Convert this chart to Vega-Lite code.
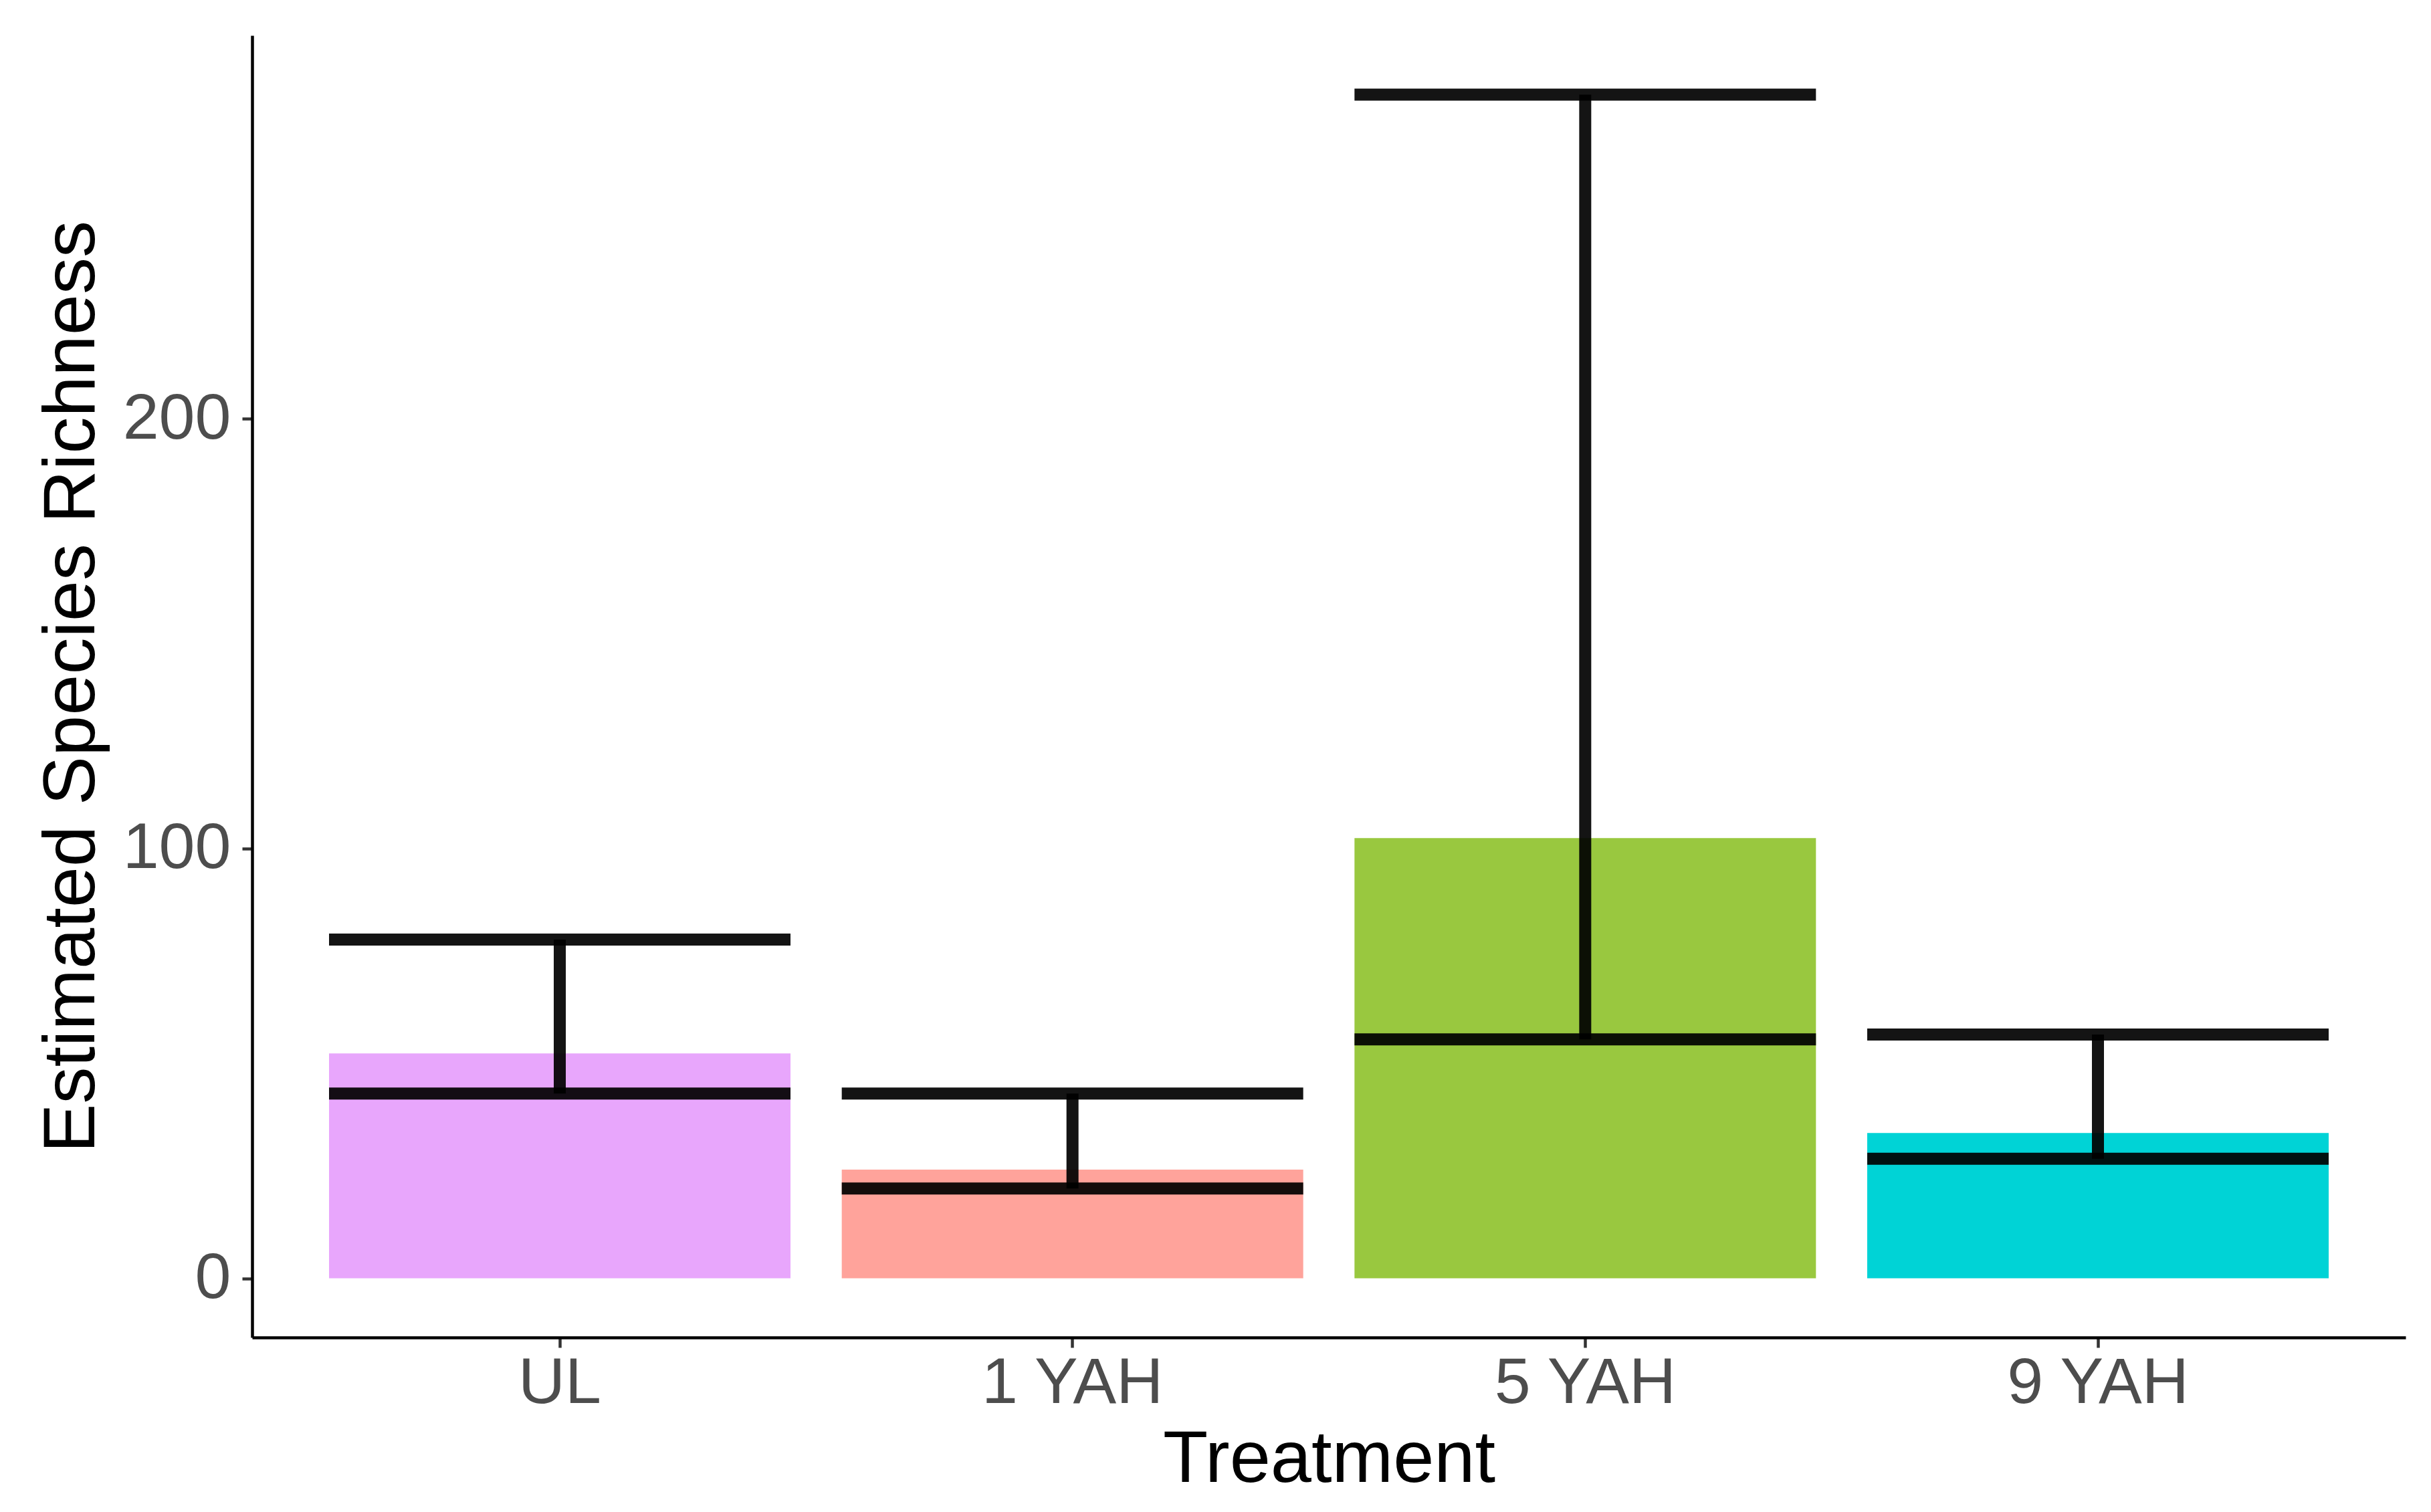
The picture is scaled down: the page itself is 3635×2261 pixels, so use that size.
{
  "$schema": "https://vega.github.io/schema/vega-lite/v6.json",
  "autosize": {"type": "none"},
  "padding": {"left": 377, "top": 53, "right": 38, "bottom": 261},
  "width": 3220,
  "height": 1947,
  "background": "white",
  "config": {
    "view": {"stroke": null},
    "font": "Liberation Sans",
    "axis": {
      "grid": false,
      "domainColor": "#000000",
      "domainWidth": 4.5,
      "tickColor": "#333333",
      "tickWidth": 4.5,
      "tickSize": 15,
      "labelColor": "#4D4D4D",
      "labelFontSize": 97,
      "labelLimit": 0,
      "labelFont": "Liberation Sans",
      "titleFont": "Liberation Sans",
      "titleFontSize": 110,
      "titleFontWeight": "normal",
      "titleColor": "#000000",
      "titleLimit": 0
    }
  },
  "data": {
    "values": [
      {"Treatment": "UL", "richness": 52.3, "lower": 43.0, "upper": 78.8},
      {"Treatment": "1 YAH", "richness": 25.3, "lower": 20.9, "upper": 43.0},
      {"Treatment": "5 YAH", "richness": 102.4, "lower": 55.6, "upper": 275.4},
      {"Treatment": "9 YAH", "richness": 33.8, "lower": 27.8, "upper": 56.7}
    ]
  },
  "encoding": {
    "x": {
      "field": "Treatment",
      "type": "nominal",
      "sort": ["UL", "1 YAH", "5 YAH", "9 YAH"],
      "scale": {"paddingInner": 0.1, "paddingOuter": 0.15},
      "axis": {"labelAngle": 0, "labelPadding": 5, "titlePadding": 12, "title": "Treatment"}
    }
  },
  "layer": [
    {
      "mark": {"type": "bar"},
      "encoding": {
        "y": {
          "field": "richness",
          "type": "quantitative",
          "scale": {"domain": [-13.77, 289.17], "nice": false, "zero": false},
          "axis": {"values": [0, 100, 200], "labelPadding": 17, "titlePadding": 20, "title": "Estimated Species Richness"}
        },
        "color": {
          "field": "Treatment",
          "type": "nominal",
          "scale": {"domain": ["UL", "1 YAH", "5 YAH", "9 YAH"], "range": ["#E8A6FC", "#FFA39B", "#99C83F", "#00D3D6"]},
          "legend": null
        }
      }
    },
    {
      "mark": {"type": "rule", "color": "#000000", "opacity": 0.92, "strokeWidth": 18, "strokeCap": "butt"},
      "encoding": {
        "y": {"field": "lower", "type": "quantitative"},
        "y2": {"field": "upper"}
      }
    },
    {
      "mark": {"type": "tick", "color": "#000000", "opacity": 0.92, "thickness": 18, "size": 690},
      "encoding": {
        "y": {"field": "upper", "type": "quantitative"}
      }
    },
    {
      "mark": {"type": "tick", "color": "#000000", "opacity": 0.92, "thickness": 18, "size": 690},
      "encoding": {
        "y": {"field": "lower", "type": "quantitative"}
      }
    }
  ]
}
